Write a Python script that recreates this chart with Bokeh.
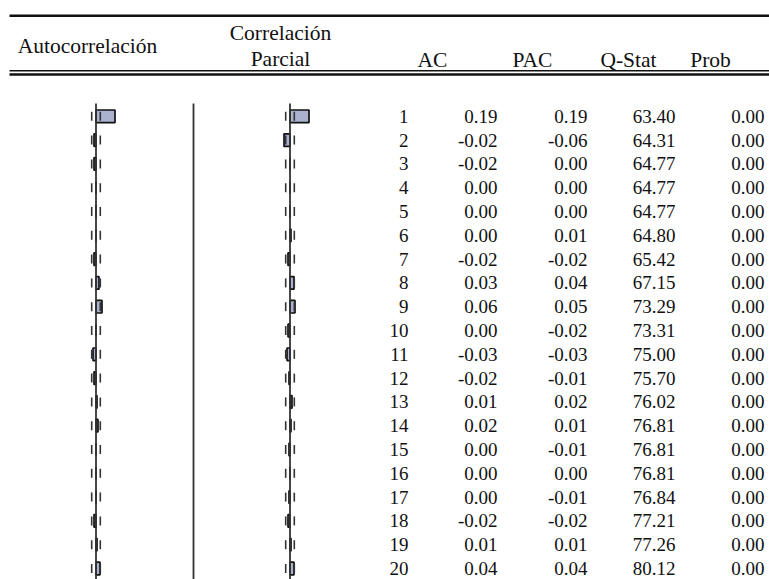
from bokeh.plotting import figure
from bokeh.models import Range1d
from bokeh.embed import file_html
from bokeh.resources import INLINE
from bokeh.core.properties import value

# ---- data ----
lags = list(range(1, 21))
ac = [0.19, -0.02, -0.02, 0.00, 0.00, 0.00, -0.02, 0.03, 0.06, 0.00,
      -0.03, -0.02, 0.01, 0.02, 0.00, 0.00, 0.00, -0.02, 0.01, 0.04]
pac = [0.19, -0.06, 0.00, 0.00, 0.00, 0.01, -0.02, 0.04, 0.05, -0.02,
       -0.03, -0.01, 0.02, 0.01, -0.01, 0.00, -0.01, -0.02, 0.01, 0.04]
qstat = [63.40, 64.31, 64.77, 64.77, 64.77, 64.80, 65.42, 67.15, 73.29, 73.31,
         75.00, 75.70, 76.02, 76.81, 76.81, 76.81, 76.84, 77.21, 77.26, 80.12]
prob = [0.00, 0.00, 0.00, 0.00, 0.00, 0.00, 0.00, 0.00, 0.00, 0.00,
        0.00, 0.00, 0.00, 0.00, 0.00, 0.00, 0.00, 0.00, 0.00, 0.00]
conf_bound = 0.043
headers = ["AC", "PAC", "Q-Stat", "Prob"]

FONT = "Liberation Serif"
HDR_SIZE = "21.5px"
NUM_SIZE = "19px"
INK = "#111111"
BAR_FILL = "#aab2cf"

# ---- layout frame (pixel coordinates) ----
W, H = 769, 579
px_left, px_right = 0, 769
px_top, px_bottom = 0, 579
row1_px, row_step = 115.8, 23.8
unit_px = 100.0          # pixels per unit of correlation
ac_zero_px, pac_zero_px = 95.5, 289.5


def lag_at(py):
    return 1 + (py - row1_px) / row_step


p = figure(width=W, height=H, output_backend="svg", toolbar_location=None,
           x_range=Range1d(px_left, px_right),
           y_range=Range1d(lag_at(px_bottom), lag_at(px_top)),
           min_border=0, min_border_left=0, min_border_right=0,
           min_border_top=0, min_border_bottom=0)
p.outline_line_color = None
p.axis.visible = False
p.grid.visible = False
p.background_fill_color = "white"
p.border_fill_color = "white"

p.extra_y_ranges = {"px": Range1d(px_bottom, px_top)}
p.extra_x_ranges = {
    "ac": Range1d((px_left - ac_zero_px) / unit_px, (px_right - ac_zero_px) / unit_px),
    "pac": Range1d((px_left - pac_zero_px) / unit_px, (px_right - pac_zero_px) / unit_px),
}

# ---- horizontal rules ----
p.segment(x0=9, x1=769, y0=15.3, y1=15.3, y_range_name="px", line_color=INK, line_width=2.6)
p.segment(x0=9, x1=769, y0=70.2, y1=70.2, y_range_name="px", line_color=INK, line_width=1.6)
p.segment(x0=9, x1=769, y0=74.0, y1=74.0, y_range_name="px", line_color=INK, line_width=2.7)

# ---- headers ----
p.text(x=[87], y=[45], text=["Autocorrelación"], y_range_name="px",
       text_font=value(FONT), text_font_size=HDR_SIZE, text_align="center",
       text_baseline="alphabetic", text_color=INK)
p.text(x=[280, 280], y=[32, 58], text=["Correlación", "Parcial"], y_range_name="px",
       text_font=value(FONT), text_font_size=HDR_SIZE, text_align="center",
       text_baseline="alphabetic", text_color=INK)
p.text(x=[432, 532, 628, 710], y=[59, 59, 59, 59], text=headers, y_range_name="px",
       text_font=value(FONT), text_font_size=HDR_SIZE, text_align="center",
       text_baseline="alphabetic", text_color=INK)

# ---- correlogram panels ----
line_top = lag_at(103)
line_bot = lag_at(px_bottom + 5)
p.segment(x0=193, x1=193, y0=line_top, y1=line_bot, line_color="#333333", line_width=1.8)

for name, vals in (("ac", ac), ("pac", pac)):
    p.hbar(y=lags, left=0, right=vals, height=0.53, x_range_name=name,
           fill_color=BAR_FILL, line_color=INK, line_width=1.7)
    p.segment(x0=0, x1=0, y0=line_top, y1=line_bot, x_range_name=name,
              line_color="#333333", line_width=1.8)
    p.rect(x=[-conf_bound] * len(lags), y=lags, width=1.6, width_units="screen",
           height=9, height_units="screen", x_range_name=name,
           fill_color="#333333", line_color=None)
    p.rect(x=[conf_bound] * len(lags), y=lags, width=1.6, width_units="screen",
           height=9, height_units="screen", x_range_name=name,
           fill_color="#333333", line_color=None)

# ---- numeric columns ----
cols = [
    (408, [str(v) for v in lags]),
    (497, [f"{v:.2f}" for v in ac]),
    (587, [f"{v:.2f}" for v in pac]),
    (675, [f"{v:.2f}" for v in qstat]),
    (764, [f"{v:.2f}" for v in prob]),
]
for xr, labels in cols:
    p.text(x=[xr] * len(lags), y=lags, text=labels,
           text_font=value(FONT), text_font_size=NUM_SIZE, text_align="right",
           text_baseline="middle", text_color=INK)

open("out.html", "w").write(file_html(p, INLINE))
